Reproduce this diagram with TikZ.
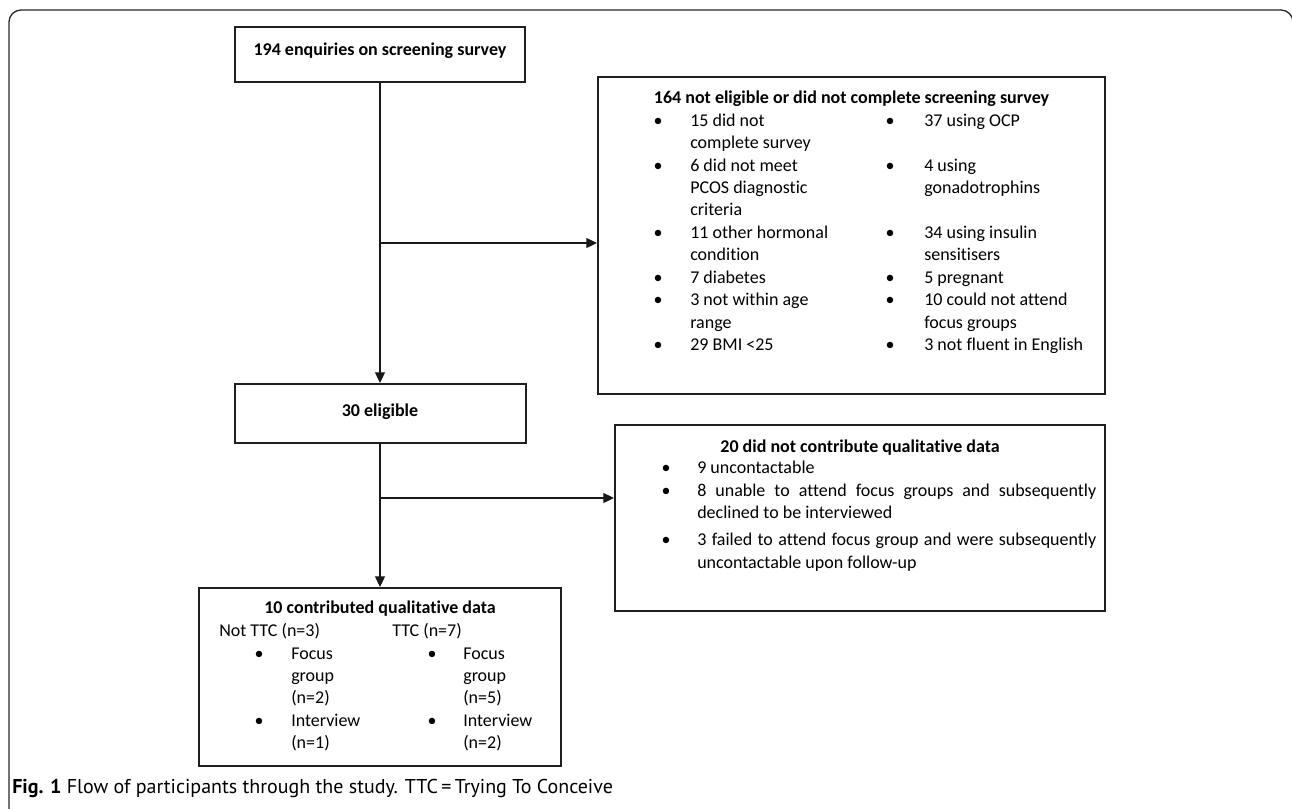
\documentclass[tikz,border=0pt]{standalone}
\usepackage{fontspec}
\setmainfont{Carlito}[Ligatures=NoCommon]
\newfontfamily\capfont{PT Sans}
\usetikzlibrary{arrows.meta,fit}
\begin{document}
\begin{tikzpicture}[x=0.75pt,y=-0.75pt,
  box/.style={draw=black!88,line width=1.5pt,rectangle,inner sep=0pt},
  conn/.style={line width=0.8pt,draw=black!90},
  arr/.style={conn,-{Triangle[length=8pt,width=7.5pt]}},
  txt/.style={inner sep=0pt,anchor=base west,font=\fontsize{13.5pt}{16.9pt}\selectfont},
  hd/.style={inner sep=0pt,anchor=base,font=\fontsize{13.5pt}{16.9pt}\selectfont\bfseries},
  bul/.style={inner sep=0pt,anchor=base,font=\fontsize{13.5pt}{16.9pt}\selectfont},
  capt/.style={inner sep=0pt,anchor=base west,font=\capfont\fontsize{15pt}{18pt}\selectfont},
]
\useasboundingbox (0,0) rectangle (1292,808);
\clip (0,0) rectangle (1292,808);
% outer frame
\draw[line width=1pt,black!85,rounded corners=9pt] (9,820) -- (9,10) -- (1293,10) -- (1293,820);

% boxes
\node[box,fit={(235,27) (525,82)}] (b1) {};
\node[box,fit={(598,77) (1105,394)}] (b2) {};
\node[box,fit={(235,384) (526,443)}] (b30) {};
\node[box,fit={(615,425) (1105,611)}] (b3) {};
\node[box,fit={(199,588) (561,766)}] (b4) {};

% connectors
\coordinate (j1) at (380,243);
\coordinate (j2) at (380,498);
\draw[arr] (b1.south -| j1) -- (b30.north -| j1);
\draw[arr] (j1) -- (j1 -| b2.west);
\draw[arr] (b30.south -| j1) -- (b4.north -| j1);
\draw[arr] (j2) -- (j2 -| b3.west);

% box 1 and 30
\node[hd] (t1) at (380,55) {194 enquiries on screening survey};
\node[hd] (t30) at (380,416) {30 eligible};

% box 2
\node[hd] (h2) at (851.5,103) {164 not eligible or did not complete screening survey};
\foreach \y/\t [count=\i] in {126.7/15 did not, 148.3/complete survey, 171/6 did not meet, 193.3/PCOS diagnostic, 215.5/criteria, 238.3/11 other hormonal, 260.5/condition, 283/7 diabetes, 305.5/3 not within age, 328/range, 350.5/29 BMI <25}
  \node[txt] (pa\i) at (690,\y) {\t};
\foreach \y/\t [count=\i] in {126.7/37 using OCP, 171/4 using, 193.3/gonadotrophins, 238.3/34 using insulin, 260.5/sensitisers, 283/5 pregnant, 305.5/10 could not attend, 328/focus groups, 350.5/3 not fluent in English}
  \node[txt] (pb\i) at (924,\y) {\t};
\foreach \y [count=\i] in {126.7,171,238.3,283,305.5,350.5}
  \node[bul] (ba\i) at (658,\y) {•};
\foreach \y [count=\i] in {126.7,171,238.3,283,305.5,350.5}
  \node[bul] (bb\i) at (890,\y) {•};

% box 3
\node[hd] (h3) at (860,452) {20 did not contribute qualitative data};
\node[txt] (q1) at (697,473) {9 uncontactable};
\node[txt] (q2) at (697,496) {\makebox[299.25pt][s]{8 unable to attend focus groups and subsequently}};
\node[txt] (q3) at (697,518) {declined to be interviewed};
\node[txt] (q4) at (697,545) {\makebox[299.25pt][s]{3 failed to attend focus group and were subsequently}};
\node[txt] (q5) at (697,568) {uncontactable upon follow-up};
\foreach \y [count=\i] in {473,496,545}
  \node[bul] (bq\i) at (666,\y) {•};

% box 4
\node[hd] (h4) at (380,613) {10 contributed qualitative data};
\node[txt] (g1) at (219,636) {Not TTC (n=3)};
\node[txt] (g2) at (392,636) {TTC (n=7)};
\foreach \y/\t [count=\i] in {659/Focus, 681/group, 703/(n=2), 726/Interview, 748/(n=1)}
  \node[txt] (ra\i) at (291,\y) {\t};
\foreach \y/\t [count=\i] in {659/Focus, 681/group, 703/(n=5), 726/Interview, 748/(n=2)}
  \node[txt] (rb\i) at (463,\y) {\t};
\foreach \y [count=\i] in {659,726}
  \node[bul] (bra\i) at (259,\y) {•};
\foreach \y [count=\i] in {659,726}
  \node[bul] (brb\i) at (432,\y) {•};

% caption
\node[capt] (cap) at (12,793) {\textbf{Fig. 1} Flow of participants through the study. TTC\,=\,Trying To Conceive};
\end{tikzpicture}
\end{document}
